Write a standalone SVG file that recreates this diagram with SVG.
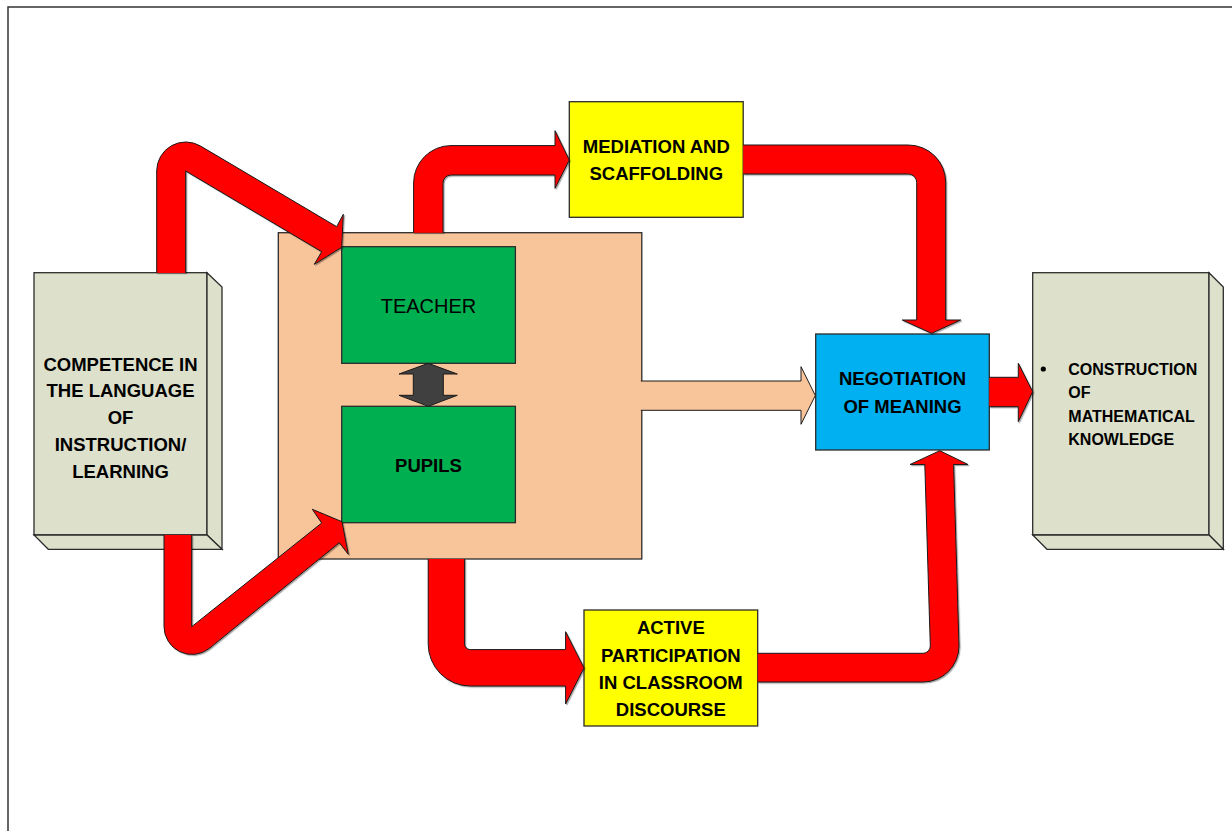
<svg xmlns="http://www.w3.org/2000/svg" width="1232" height="831" viewBox="0 0 1232 831">
<defs>
<filter id="sh" x="-5%" y="-5%" width="110%" height="110%">
<feDropShadow dx="1.2" dy="1.2" stdDeviation="0.6" flood-color="#000" flood-opacity="0.35"/>
</filter>
</defs>
<style>
.box{stroke:#2b2b2b;stroke-width:1.3}
.beige{fill:#DDE0CB}
.orange{fill:#F8C59B}
.green{fill:#00B050}
.yellow{fill:#FFFF00}
.blue{fill:#00B0F0}
.red{fill:#FF0000;stroke:#1a1a1a;stroke-width:1;stroke-linejoin:miter;filter:url(#sh)}
.oarrow{fill:#F8C59B;stroke:#1a1a1a;stroke-width:1}
.dark{fill:#404040;stroke:#1a1a1a;stroke-width:1}
.t{font-family:"Liberation Sans",Arial,sans-serif;font-weight:bold;font-size:18.5px;fill:#000;text-anchor:middle}
.tn{font-family:"Liberation Sans",Arial,sans-serif;font-size:20px;fill:#000;text-anchor:middle}
.ts{font-family:"Liberation Sans",Arial,sans-serif;font-weight:bold;font-size:16px;fill:#000}
</style>
<rect x="8" y="7" width="1240" height="840" fill="#fff" stroke="#333" stroke-width="1.5"/>

<g id="competence">
<rect class="box beige" x="34" y="272.7" width="173" height="262.3"/>
<polygon class="box beige" points="207,272.7 222,287 222,549.3 207,535"/>
<polygon class="box beige" points="34,535 207,535 222,549.3 48.3,549.3"/>
<text class="t" x="120.5" y="370.5">COMPETENCE IN</text>
<text class="t" x="120.5" y="397.3">THE LANGUAGE</text>
<text class="t" x="120.5" y="424">OF</text>
<text class="t" x="120.5" y="450.8">INSTRUCTION/</text>
<text class="t" x="120.5" y="477.6">LEARNING</text>
</g>

<g id="classroom">
<rect class="box orange" x="278.3" y="232.7" width="363.5" height="326.3"/>
</g>

<g id="teacher">
<rect class="box green" x="341.7" y="246.7" width="173.7" height="116.6"/>
<text class="tn" x="428.5" y="313">TEACHER</text>
</g>

<g id="pupils">
<rect class="box green" x="341.7" y="406.3" width="173.7" height="116.4"/>
<text class="t" x="428.5" y="471.7">PUPILS</text>
</g>

<g id="mediation">
<rect class="box yellow" x="569.3" y="101.7" width="173.9" height="115.6"/>
<text class="t" x="656.3" y="153.3">MEDIATION AND</text>
<text class="t" x="656.3" y="180">SCAFFOLDING</text>
</g>

<g id="negotiation">
<rect class="box blue" x="815.7" y="334" width="173.6" height="116"/>
<text class="t" x="902.5" y="385">NEGOTIATION</text>
<text class="t" x="902.5" y="412.7">OF MEANING</text>
</g>

<g id="participation">
<rect class="box yellow" x="584" y="610" width="173.7" height="116"/>
<text class="t" x="670.8" y="634">ACTIVE</text>
<text class="t" x="670.8" y="661.7">PARTICIPATION</text>
<text class="t" x="670.8" y="689.3">IN CLASSROOM</text>
<text class="t" x="670.8" y="716">DISCOURSE</text>
</g>

<g id="construction">
<rect class="box beige" x="1032.7" y="272.7" width="176.3" height="262.3"/>
<polygon class="box beige" points="1209,272.7 1223.3,287 1223.3,549.3 1209,535"/>
<polygon class="box beige" points="1032.7,535 1209,535 1223.3,549.3 1047,549.3"/>
<circle cx="1043.3" cy="369" r="2.6" fill="#000"/>
<text class="ts" x="1068.3" y="375">CONSTRUCTION</text>
<text class="ts" x="1068.3" y="398.3">OF</text>
<text class="ts" x="1068.3" y="421.7">MATHEMATICAL</text>
<text class="ts" x="1068.3" y="445">KNOWLEDGE</text>
</g>

<g id="connectors">
<path class="red" d="M156.7,273 V171 A29,29 0 0 1 200.6,146.1 L336.7,226.7 L343.3,214.3 L341.7,247.3 L314.3,264.3 L321.7,251.7 L185.7,171 V273"/>
<path class="red" d="M164,535 V626.7 A28,28 0 0 0 209.1,648.6 L339.3,542.7 L348.3,554.3 L342,521.7 L312.3,509.3 L321.7,523 L191.7,626.7 V535"/>
<path class="red" d="M413.6,232.7 V183 A37.4,37.4 0 0 1 451,145.6 H555 V130.7 L569.3,160 L555,188.3 V175 H451 A8,8 0 0 0 443,183 V232.7"/>
<path class="red" d="M743.2,145 H908.3 A37.4,37.4 0 0 1 945.7,182.4 V320 H960.7 L931.5,333.3 L902.3,320 H916.7 V182.4 A8.4,8.4 0 0 0 908.3,174 H743.2"/>
<path class="red" d="M428.2,559 V644 A42,42 0 0 0 470.2,686 H565.6 V704 L584,667.8 L565.6,631.7 V649.6 H470.2 A5.6,5.6 0 0 1 464.6,644 V559"/>
<path class="red" d="M757.7,653.3 H923 A7.3,7.3 0 0 0 930.3,646 L924.8,464.5 H910 L939.8,450.7 L968,464.5 H953.6 L959,646 A36,36 0 0 1 923,682 H757.7"/>
<path class="red" d="M989.3,377.3 H1018.3 V363.3 L1032.7,391.7 L1018.3,421.7 V406.7 H989.3"/>
<path class="oarrow" d="M640.8,381 H801 V366.7 L815.3,395.5 L801,424.3 V410.3 H640.8"/>
<polygon class="dark" points="428.3,363.3 457.3,374 443.3,374 443.3,395.3 457.3,395.3 428.3,406.3 399,395.3 413.3,395.3 413.3,374 399,374"/>
</g>
</svg>
